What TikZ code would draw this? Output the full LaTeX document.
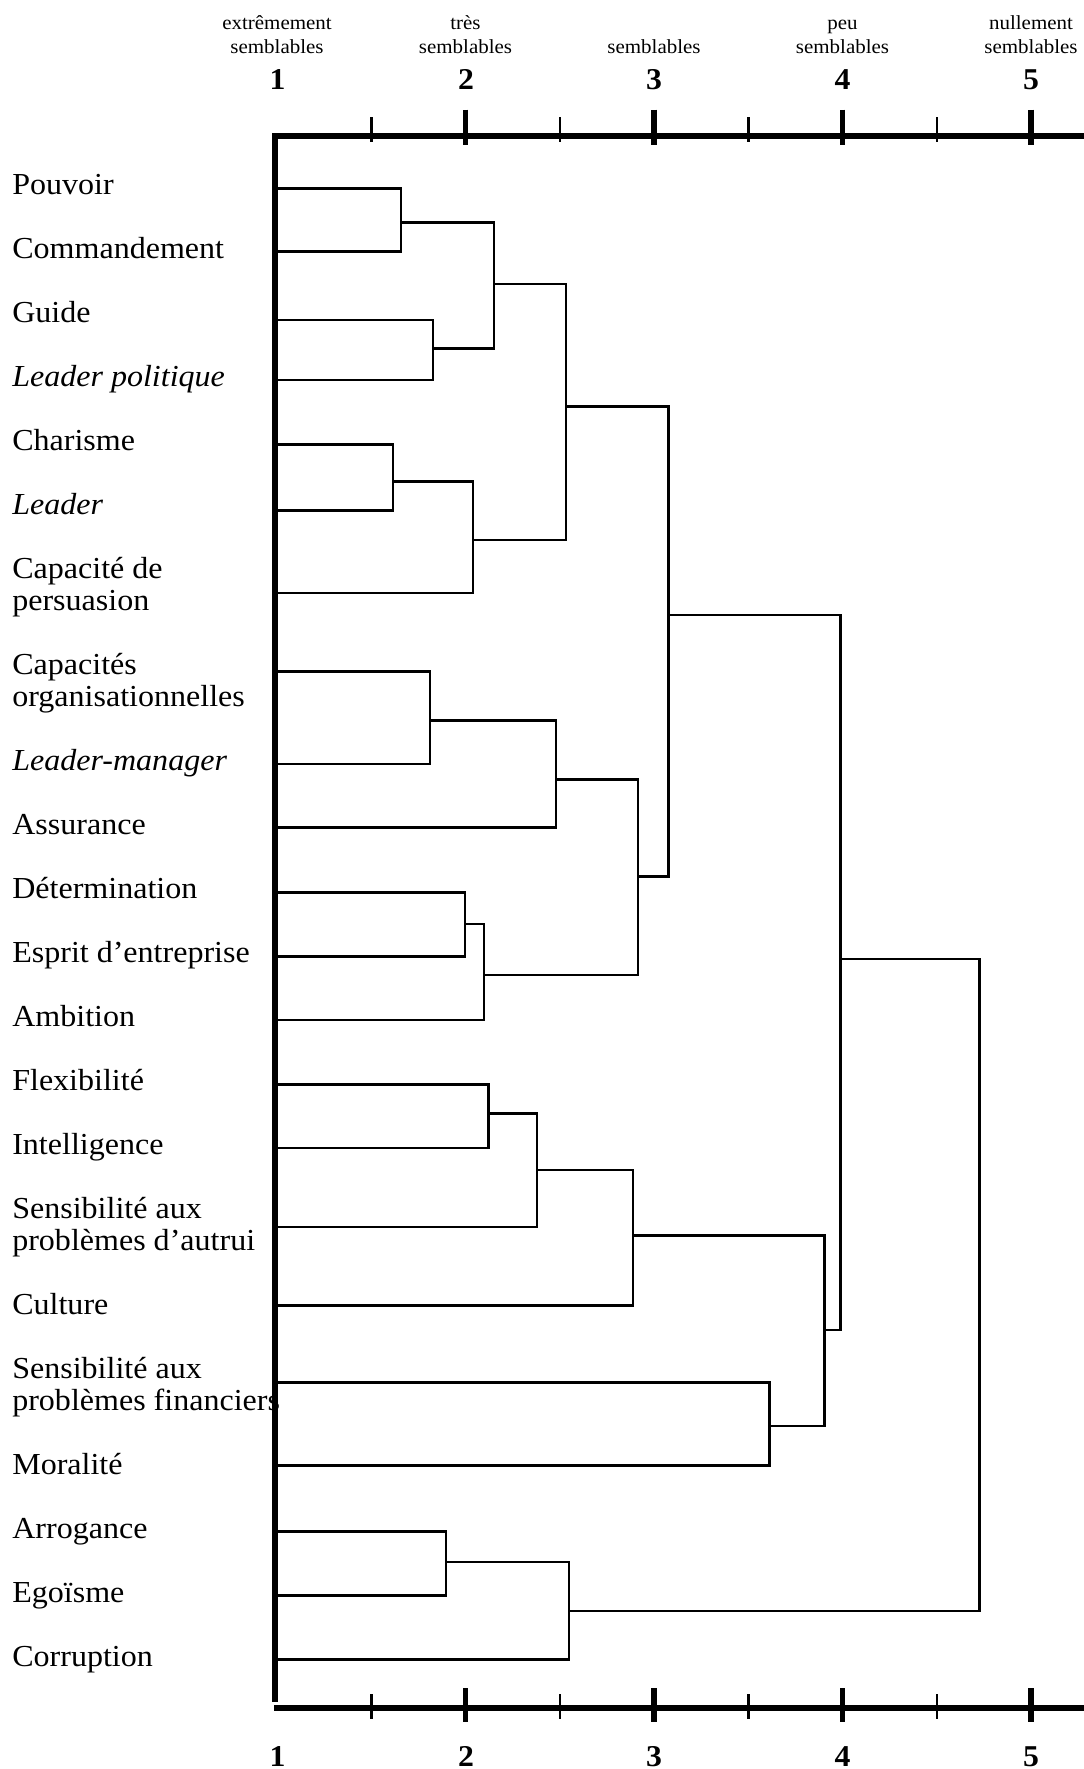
\documentclass[tikz,border=0pt]{standalone}
\usepackage{fontspec}
\setmainfont{Liberation Serif}[FakeStretch=1.05]

\tikzset{
  leaf/.style={anchor=base west, inner sep=0pt, align=left, font=\fontsize{21.7}{22.76}\selectfont},
  scaletxt/.style={anchor=south, inner sep=0pt, align=center, font=\fontsize{14.2}{17.1}\selectfont},
  scalenum/.style={anchor=base, inner sep=0pt, font=\fontsize{21.5}{21.5}\selectfont\bfseries},
  branch/.style={line width=1.8pt},
  axisline/.style={line width=3.8pt},
  bigtick/.style={line width=3.9pt},
  smalltick/.style={line width=2.1pt}
}

\begin{document}
\begin{tikzpicture}[x=0.025cm,y=-0.025cm]
\useasboundingbox (0,0) rectangle (1084,1769);

% labels
\node[leaf] (pouvoir) at (12,194) {Pouvoir};
\node[leaf] (commandement) at (12,258) {Commandement};
\node[leaf] (guide) at (12,322) {Guide};
\node[leaf] (politique) at (12,386) {\itshape Leader politique};
\node[leaf] (charisme) at (12,450) {Charisme};
\node[leaf] (leader) at (12,514) {\itshape Leader};
\node[leaf] (persuasion) at (12,610) {Capacité de\\persuasion};
\node[leaf] (organisation) at (12,706) {Capacités\\organisationnelles};
\node[leaf] (manager) at (12,770) {\itshape Leader-manager};
\node[leaf] (assurance) at (12,834) {Assurance};
\node[leaf] (determination) at (12,898) {Détermination};
\node[leaf] (esprit) at (12,962) {Esprit d’entreprise};
\node[leaf] (ambition) at (12,1026) {Ambition};
\node[leaf] (flexibilite) at (12,1090) {Flexibilité};
\node[leaf] (intelligence) at (12,1154) {Intelligence};
\node[leaf] (autrui) at (12,1250) {Sensibilité aux\\problèmes d’autrui};
\node[leaf] (culture) at (12,1314) {Culture};
\node[leaf] (financiers) at (12,1410) {Sensibilité aux\\problèmes financiers};
\node[leaf] (moralite) at (12,1474) {Moralité};
\node[leaf] (arrogance) at (12,1538) {Arrogance};
\node[leaf] (egoisme) at (12,1602) {Egoïsme};
\node[leaf] (corruption) at (12,1666) {Corruption};

\node[scaletxt] (s1) at (277,54) {extrêmement\\semblables};
\node[scaletxt] (s2) at (465.5,54) {très\\semblables};
\node[scaletxt] (s3) at (654,54) {semblables};
\node[scaletxt] (s4) at (842.5,54) {peu\\semblables};
\node[scaletxt] (s5) at (1031,54) {nullement\\semblables};

\node[scalenum] (t1) at (277.5,89.5) {1};
\node[scalenum] (t2) at (466,89.5) {2};
\node[scalenum] (t3) at (654,89.5) {3};
\node[scalenum] (t4) at (842.5,89.5) {4};
\node[scalenum] (t5) at (1031,89.5) {5};
\node[scalenum] (b1) at (277.5,1766) {1};
\node[scalenum] (b2) at (466,1766) {2};
\node[scalenum] (b3) at (654,1766) {3};
\node[scalenum] (b4) at (842.5,1766) {4};
\node[scalenum] (b5) at (1031,1766) {5};

% axes
\draw[axisline] (1084,136) -- (275,136) -- (275,1702);
\draw[axisline] (274,1708) -- (1084,1708);
\draw[bigtick] (465.5,109.5) -- (465.5,144.5);
\draw[bigtick] (654,109.5) -- (654,144.5);
\draw[bigtick] (842.5,109.5) -- (842.5,144.5);
\draw[bigtick] (1031,109.5) -- (1031,144.5);
\draw[smalltick] (371.5,117) -- (371.5,142);
\draw[smalltick] (560,117) -- (560,142);
\draw[smalltick] (748.5,117) -- (748.5,142);
\draw[smalltick] (937,117) -- (937,142);
\draw[bigtick] (465.5,1688) -- (465.5,1722);
\draw[bigtick] (654,1688) -- (654,1722);
\draw[bigtick] (842.5,1688) -- (842.5,1722);
\draw[bigtick] (1031,1688) -- (1031,1722);
\draw[smalltick] (371.5,1694) -- (371.5,1719);
\draw[smalltick] (560,1694) -- (560,1719);
\draw[smalltick] (748.5,1694) -- (748.5,1719);
\draw[smalltick] (937,1694) -- (937,1719);

% leaves
\coordinate (l1) at (275,188.3);
\coordinate (l2) at (275,251.7);
\coordinate (l3) at (275,320);
\coordinate (l4) at (275,380);
\coordinate (l5) at (275,444.3);
\coordinate (l6) at (275,510.7);
\coordinate (l7) at (275,593);
\coordinate (l8) at (275,671.7);
\coordinate (l9) at (275,764);
\coordinate (l10) at (275,827.7);
\coordinate (l11) at (275,892.3);
\coordinate (l12) at (275,956.7);
\coordinate (l13) at (275,1020);
\coordinate (l14) at (275,1084.5);
\coordinate (l15) at (275,1148);
\coordinate (l16) at (275,1227);
\coordinate (l17) at (275,1305.7);
\coordinate (l18) at (275,1382.5);
\coordinate (l19) at (275,1465.5);
\coordinate (l20) at (275,1531.5);
\coordinate (l21) at (275,1595.5);
\coordinate (l22) at (275,1659.5);

% merges
\coordinate (m1) at (401,222.3);
\coordinate (m2) at (433,348.5);
\coordinate (m3) at (494,284);
\coordinate (m4) at (393,481.7);
\coordinate (m5) at (473,540);
\coordinate (m6) at (566,406.5);
\coordinate (m7) at (430,720.5);
\coordinate (m8) at (556,779.5);
\coordinate (m9) at (465,924);
\coordinate (m10) at (484,975);
\coordinate (m11) at (638,876.6);
\coordinate (m12) at (668.5,615);
\coordinate (m13) at (488.6,1113.5);
\coordinate (m14) at (537,1170);
\coordinate (m15) at (633,1235.6);
\coordinate (m16) at (769.5,1425.8);
\coordinate (m17) at (824.3,1330);
\coordinate (m18) at (840.5,958.8);
\coordinate (m19) at (445.8,1562);
\coordinate (m20) at (568.8,1611);
\coordinate (m21) at (979.5,1285);

\draw[branch] (l1) -| (m1) |- (l2);
\draw[branch] (l3) -| (m2) |- (l4);
\draw[branch] (m1) -| (m3) |- (m2);
\draw[branch] (l5) -| (m4) |- (l6);
\draw[branch] (m4) -| (m5) |- (l7);
\draw[branch] (m3) -| (m6) |- (m5);
\draw[branch] (l8) -| (m7) |- (l9);
\draw[branch] (m7) -| (m8) |- (l10);
\draw[branch] (l11) -| (m9) |- (l12);
\draw[branch] (m9) -| (m10) |- (l13);
\draw[branch] (m8) -| (m11) |- (m10);
\draw[branch] (m6) -| (m12) |- (m11);
\draw[branch] (l14) -| (m13) |- (l15);
\draw[branch] (m13) -| (m14) |- (l16);
\draw[branch] (m14) -| (m15) |- (l17);
\draw[branch] (l18) -| (m16) |- (l19);
\draw[branch] (m15) -| (m17) |- (m16);
\draw[branch] (m12) -| (m18) |- (m17);
\draw[branch] (l20) -| (m19) |- (l21);
\draw[branch] (m19) -| (m20) |- (l22);
\draw[branch] (m18) -| (m21) |- (m20);

\end{tikzpicture}
\end{document}
